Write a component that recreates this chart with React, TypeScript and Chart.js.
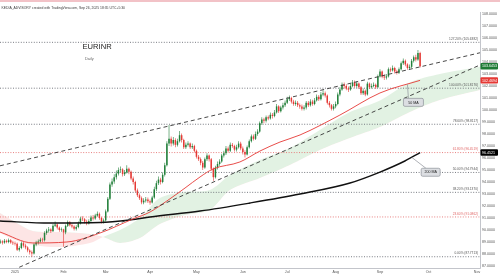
import React, { useEffect, useRef } from 'react';
import { Chart, registerables } from 'chart.js';

Chart.register(...registerables);

// ---------- DATA ----------
const headerText = 'KEDIA_ADVISORY created with TradingView.com, Sep 26, 2025 18:35 UTC+5:30';
const symbolTitle = 'EURINR';
const intervalTitle = 'Daily';

const firstBar = -7; // Dec 23, 2024 (bar 0 = Jan 1, 2025)
const firstOpen = 88.95;

const closes = [
  89.05, 88.95, 89.10, 89.00, 89.15, 88.95, 88.90,
  88.85, 88.35, 88.50, 88.90, 88.70, 88.55, 88.30, 88.15, 88.05, 88.80,
  88.95, 89.05, 89.20, 89.15, 89.75, 89.95, 90.05, 89.90, 90.35, 90.45,
  90.20, 90.00, 90.05,
  89.80, 90.35, 90.65, 90.40, 90.30, 90.10, 90.25, 90.55, 90.95, 90.90,
  90.70, 90.55, 90.75, 91.05, 90.95, 91.20, 91.35, 91.00, 90.70, 90.80,
  91.55, 92.60, 93.80, 94.05, 94.40, 94.70, 95.00, 95.05, 94.65, 94.80,
  95.10, 94.85, 94.30, 94.00, 93.30, 92.90, 92.65, 92.30, 92.45, 92.55, 92.40,
  92.30, 92.70, 93.40, 93.90, 94.20, 94.00, 94.60, 95.40, 97.20, 97.60,
  97.20, 97.50, 97.10, 97.40, 97.90, 97.50, 96.90, 97.10, 97.20, 96.90, 97.00, 96.60,
  96.10, 95.90, 95.60, 95.20, 95.90, 96.20, 95.90, 95.10, 94.40, 95.20,
  95.50, 95.70, 96.20, 96.40, 96.80, 96.60, 97.10, 97.00, 96.70, 96.90, 97.20, 96.80,
  96.50, 96.30, 96.90, 97.40, 97.80, 97.60, 98.00, 98.20, 98.90, 99.20,
  99.10, 99.40, 99.30, 99.60, 99.50, 99.80, 100.30, 99.90, 100.20, 100.40, 100.60,
  100.90, 101.00, 100.70, 100.50, 100.60, 100.40, 100.30, 100.10, 100.20, 100.60,
  100.40, 100.70, 100.50, 100.80, 101.10, 100.90, 101.30, 101.40, 101.20, 100.60,
  100.40, 100.10, 100.30,
  100.50, 101.30, 101.70, 102.10, 102.00, 101.80, 101.70, 102.00, 102.30, 102.00,
  102.20, 101.90, 101.40, 101.60, 101.30, 102.20, 101.90, 102.00, 102.10, 101.90, 102.80,
  103.20, 102.80, 102.70, 102.80, 103.40, 103.30, 103.50, 103.20, 103.10, 103.40,
  103.90, 104.10, 103.80, 103.50, 103.60, 104.10, 104.40, 104.20, 104.75, 103.6453,
];

const highs = [
  89.20, 89.15, 89.25, 89.20, 89.30, 89.25, 89.10,
  89.05, 88.95, 88.65, 89.05, 89.00, 88.85, 88.65, 88.40, 88.30, 88.90,
  89.10, 89.20, 89.35, 89.35, 89.90, 90.10, 90.25, 90.15, 90.50, 90.70,
  90.55, 90.30, 90.20,
  90.10, 90.45, 90.80, 90.75, 90.55, 90.40, 90.40, 90.70, 91.10, 91.15,
  91.00, 90.85, 90.90, 91.20, 91.25, 91.35, 91.55, 91.45, 91.10, 90.95,
  91.70, 92.75, 93.95, 94.30, 94.65, 94.95, 95.20, 95.30, 95.15, 95.00,
  95.40, 95.20, 94.95, 94.45, 94.10, 93.45, 93.05, 92.80, 92.65, 92.75, 92.70,
  92.55, 92.85, 93.60, 94.10, 94.45, 94.35, 94.80, 95.60, 97.40, 98.75,
  97.80, 97.75, 97.65, 97.60, 98.25, 98.05, 97.60, 97.30, 97.40, 97.30, 97.20, 97.10,
  96.70, 96.25, 96.05, 95.75, 96.05, 96.40, 96.30, 96.00, 95.20, 95.35,
  95.70, 95.90, 96.35, 96.60, 97.00, 96.95, 97.30, 97.25, 97.10, 97.10, 97.40, 97.35,
  96.95, 96.65, 97.05, 97.55, 97.95, 97.95, 98.20, 98.40, 99.05, 99.40,
  99.35, 99.55, 99.55, 99.80, 99.75, 100.00, 100.50, 100.40, 100.35, 100.60, 100.80,
  101.10, 101.20, 101.10, 100.85, 100.80, 100.75, 100.55, 100.45, 100.40, 100.75,
  100.75, 100.90, 100.85, 101.00, 101.30, 101.25, 101.50, 101.65, 101.55, 101.30,
  100.75, 100.50, 100.50,
  100.70, 101.45, 101.90, 102.30, 102.30, 102.15, 101.95, 102.20, 102.50, 102.45,
  102.40, 102.30, 102.00, 101.80, 101.70, 102.35, 102.30, 102.20, 102.30, 102.20, 102.95,
  103.40, 103.30, 102.95, 103.00, 103.55, 103.55, 103.70, 103.60, 103.35, 103.55,
  104.05, 104.30, 104.20, 103.90, 103.80, 104.25, 104.55, 104.60, 105.00, 104.85,
];

const lows = [
  88.85, 88.80, 88.85, 88.90, 88.90, 88.85, 88.75,
  88.70, 88.25, 88.20, 88.40, 88.55, 88.40, 88.15, 87.95, 87.77, 87.95,
  88.65, 88.80, 88.95, 89.00, 89.05, 89.60, 89.80, 89.75, 89.85, 90.25,
  90.05, 89.85, 89.85,
  88.60, 89.65, 90.25, 90.30, 90.15, 89.95, 89.95, 90.15, 90.45, 90.75,
  90.55, 90.40, 90.45, 90.65, 90.80, 90.85, 91.10, 90.85, 90.55, 90.55,
  90.70, 91.45, 92.50, 93.60, 93.85, 94.20, 94.55, 94.80, 94.45, 94.50,
  94.70, 94.65, 94.15, 93.80, 93.15, 92.75, 92.50, 92.15, 92.15, 92.30, 92.25,
  92.10, 92.20, 92.60, 93.25, 93.75, 93.80, 93.90, 94.45, 95.30, 97.00,
  96.95, 97.05, 96.90, 96.95, 97.30, 97.30, 96.75, 96.75, 96.95, 96.75, 96.75, 96.45,
  95.95, 95.75, 95.40, 95.00, 95.10, 95.75, 95.70, 94.95, 94.10, 94.30,
  95.05, 95.35, 95.60, 96.05, 96.25, 96.45, 96.50, 96.85, 96.55, 96.55, 96.80, 96.65,
  96.30, 96.05, 96.20, 96.80, 97.30, 97.45, 97.50, 97.85, 98.10, 98.75,
  98.90, 98.95, 99.15, 99.20, 99.30, 99.40, 99.70, 99.75, 99.80, 100.05, 100.25,
  100.50, 100.75, 100.55, 100.35, 100.35, 100.25, 100.10, 99.95, 99.95, 100.05,
  100.25, 100.30, 100.35, 100.40, 100.70, 100.75, 100.80, 101.15, 101.05, 100.45,
  100.20, 99.95, 99.95,
  100.15, 100.40, 101.15, 101.60, 101.80, 101.65, 101.50, 101.60, 101.90, 101.85,
  101.85, 101.75, 101.25, 101.25, 101.15, 101.20, 101.75, 101.80, 101.90, 101.75, 101.85,
  102.70, 102.65, 102.50, 102.55, 102.70, 103.15, 103.20, 103.05, 102.95, 103.00,
  103.30, 103.75, 103.65, 103.35, 103.35, 103.50, 103.95, 104.05, 104.10, 103.55,
];

// moving averages (bar index, value)
const ma50Bars = [-7.11, 8.5, 24.6, 40.3, 55.9, 64, 72, 80.6, 87.7, 93.8, 106.6, 116.1, 125.6, 135.1, 154, 173, 192];
const ma50Vals = [89.83, 88.92, 89.0, 89.75, 90.92, 91.5, 92.42, 93.5, 94.42, 95.08, 95.67, 96.58, 97.33, 97.92, 99.58, 101.42, 102.4694];
const ma200Bars = [-7.11, 16.6, 40.3, 55, 64, 87.7, 111.4, 135.1, 158.8, 173, 184.8, 192];
const ma200Vals = [90.75, 90.58, 90.62, 90.85, 91.08, 91.58, 92.25, 93.0, 93.92, 94.83, 95.75, 96.4521];

// cloud spans
const cloudBars = [-7.11, 0, 8.5, 21.3, 35.5, 41.7, 49.8, 59.2, 68.7, 80.6, 92.4, 101.9, 116.1, 130.3, 144.5, 158.8, 173, 187.2, 201.4, 220.4];
const spanA = [89.75, 89.17, 88.75, 88.58, 88.92, 89.42, 90.0, 91.0, 92.67, 93.17, 93.33, 94.58, 95.83, 96.83, 98.33, 99.83, 100.8, 102.3, 103.0, 103.6];
const spanB = [91.42, 90.67, 89.92, 89.83, 89.67, 89.42, 88.92, 89.33, 90.5, 91.25, 91.67, 93.33, 94.33, 95.42, 96.67, 97.67, 98.58, 99.83, 100.83, 101.67];

// trendlines
const upperBars = [-7.11, 220.4];
const upperVals = [95.35, 104.77];
const lowerBars = [-7.11, 220.4];
const lowerVals = [86.19, 103.75];

// fibonacci
const fibLow = 87.7713;
const fibHigh = 101.8176;
const fibRatios = [1.272, 1, 0.786, 0.618, 0.5, 0.382, 0.236, 0];
const fibRedRatios = [0.618, 0.236];

// axes
const xMin = -7.11;
const xMax = 220.4;
const yMin = 86.8333;
const yMax = 108.1667;
const xTickBars = [0, 23, 43, 64, 86, 108, 129, 152, 173, 196, 219];
const xTickLabels = ['2025', 'Feb', 'Mar', 'Apr', 'May', 'Jun', 'Jul', 'Aug', 'Sep', 'Oct', 'Nov'];
const yTicks = [87, 88, 89, 90, 91, 92, 93, 94, 95, 96, 97, 98, 99, 100, 101, 102, 103, 104, 105, 106, 107, 108];

// ---------- STYLE ----------
const FONT = '"Liberation Sans", Arial, sans-serif';
const UP = '#23803b';
const DOWN = '#e53935';

const opens = closes.map((c, i) => (i === 0 ? firstOpen : closes[i - 1]));
const isUp = closes.map((c, i) => c >= opens[i]);

const pts = (bars: number[], vals: number[]) => bars.map((b, i) => ({ x: b, y: vals[i] }));

function interp(bars: number[], vals: number[], b: number) {
  for (let i = 0; i < bars.length - 1; i++) {
    if (b >= bars[i] && b <= bars[i + 1]) {
      const t = (b - bars[i]) / (bars[i + 1] - bars[i]);
      return vals[i] + t * (vals[i + 1] - vals[i]);
    }
  }
  return vals[vals.length - 1];
}

const overlay = {
  id: 'overlay',
  afterDraw(chart: any) {
    const { ctx, chartArea, scales } = chart;
    const xs = scales.x;
    const ys = scales.y;
    ctx.save();
    // hide overflow of last x label under the price axis
    ctx.fillStyle = '#ffffff';
    ctx.fillRect(chartArea.right + 0.5, chartArea.bottom + 0.6, 40, 20);

    // header
    ctx.fillStyle = '#f2c2c7';
    ctx.fillRect(0, 0, 500, 2);
    ctx.fillStyle = '#3a3a3a';
    ctx.font = `3.4px ${FONT}`;
    ctx.textAlign = 'left';
    ctx.textBaseline = 'middle';
    ctx.fillText(headerText, 1.5, 8.3);

    // title
    ctx.fillStyle = '#1c1c1c';
    ctx.font = `7.6px ${FONT}`;
    ctx.fillText(symbolTitle, 82.5, 46.5);
    ctx.fillStyle = '#666';
    ctx.font = `3.9px ${FONT}`;
    ctx.fillText(intervalTitle, 85, 59);

    // fib labels
    ctx.font = `3.2px ${FONT}`;
    ctx.textAlign = 'right';
    fibRatios.forEach((r) => {
      const v = fibLow + r * (fibHigh - fibLow);
      const y = ys.getPixelForValue(v);
      ctx.fillStyle = fibRedRatios.includes(r) ? '#e06666' : '#555';
      ctx.fillText(`${(r * 100).toFixed(2)}% (${v.toFixed(4)})`, chartArea.right - 2, y - 3.3);
    });

    // callouts
    const callout = (text: string, ax: number, ay: number, bx: number, by: number, w: number, h: number) => {
      ctx.strokeStyle = '#8d9098';
      ctx.lineWidth = 0.7;
      ctx.beginPath();
      ctx.moveTo(ax, ay);
      ctx.lineTo(bx - w / 4, by - h / 2);
      ctx.stroke();
      ctx.beginPath();
      ctx.roundRect(bx - w / 2, by - h / 2, w, h, 1.5);
      ctx.fillStyle = '#dcdee2';
      ctx.fill();
      ctx.stroke();
      ctx.fillStyle = '#222';
      ctx.font = `3.6px ${FONT}`;
      ctx.textAlign = 'center';
      ctx.textBaseline = 'middle';
      ctx.fillText(text, bx, by + 0.2);
    };
    const a50x = xs.getPixelForValue(186);
    const a50y = ys.getPixelForValue(interp(ma50Bars, ma50Vals, 186));
    callout('50 MA', a50x, a50y, a50x + 6, a50y + 18, 20, 8);
    const a200x = xs.getPixelForValue(188);
    const a200y = ys.getPixelForValue(interp(ma200Bars, ma200Vals, 188));
    callout('200 MA', a200x, a200y, a200x + 19, a200y + 15, 19, 8);

    // price boxes on axis
    const box = (v: number, bg: string) => {
      const y = ys.getPixelForValue(v);
      ctx.beginPath();
      ctx.roundRect(chartArea.right + 0.5, y - 3.2, 17.5, 6.4, 1);
      ctx.fillStyle = bg;
      ctx.fill();
      ctx.fillStyle = '#fff';
      ctx.font = `3.6px ${FONT}`;
      ctx.textAlign = 'left';
      ctx.textBaseline = 'middle';
      ctx.fillText(v.toFixed(4), chartArea.right + 2, y + 0.2);
    };
    box(ma200Vals[ma200Vals.length - 1], '#000000');
    box(ma50Vals[ma50Vals.length - 1], '#e53935');
    box(closes[closes.length - 1], '#1e7a35');
    ctx.restore();
  },
};

export default function App() {
  const ref = useRef<HTMLCanvasElement>(null);
  useEffect(() => {
    Chart.defaults.font.family = FONT;
    const candleBars = closes.map((_, i) => firstBar + i);
    const bodies = candleBars.map((b, i) => ({ x: b, y: [opens[i], closes[i]] }));
    const wicks = candleBars.map((b, i) => ({
      x: b,
      y: [Math.min(lows[i], opens[i], closes[i]), Math.max(highs[i], opens[i], closes[i])],
    }));
    const colors = isUp.map((u) => (u ? UP : DOWN));

    const fibSets = fibRatios.map((r) => {
      const v = fibLow + r * (fibHigh - fibLow);
      const red = fibRedRatios.includes(r);
      return {
        type: 'line',
        data: [{ x: xMin, y: v }, { x: xMax, y: v }],
        borderColor: red ? '#e57373' : '#6a6d75',
        borderWidth: 0.9,
        borderDash: [1, 1.6],
        pointRadius: 0,
        fill: false,
        order: 8,
      };
    });

    const chart = new Chart(ref.current as HTMLCanvasElement, {
      type: 'line',
      data: {
        datasets: [
          {
            type: 'line',
            data: pts(cloudBars, spanA),
            borderColor: 'rgba(0,0,0,0)',
            borderWidth: 0,
            pointRadius: 0,
            tension: 0.3,
            fill: { target: '+1', above: 'rgba(76,175,80,0.16)', below: 'rgba(239,83,80,0.15)' },
            order: 10,
          },
          {
            type: 'line',
            data: pts(cloudBars, spanB),
            borderColor: 'rgba(0,0,0,0)',
            borderWidth: 0,
            pointRadius: 0,
            tension: 0.3,
            fill: false,
            order: 10,
          },
          ...fibSets,
          {
            type: 'bar',
            data: wicks,
            backgroundColor: colors,
            barThickness: 0.6,
            grouped: false,
            inflateAmount: 0,
            order: 6,
          },
          {
            type: 'bar',
            data: bodies,
            backgroundColor: colors,
            barThickness: 1.5,
            grouped: false,
            inflateAmount: 0,
            order: 5,
          },
          {
            type: 'line',
            data: pts(ma200Bars, ma200Vals),
            borderColor: '#111111',
            borderWidth: 1.4,
            pointRadius: 0,
            cubicInterpolationMode: 'monotone',
            fill: false,
            order: 4,
          },
          {
            type: 'line',
            data: pts(ma50Bars, ma50Vals),
            borderColor: '#e53935',
            borderWidth: 0.9,
            pointRadius: 0,
            cubicInterpolationMode: 'monotone',
            fill: false,
            order: 3,
          },
          {
            type: 'line',
            data: pts(upperBars, upperVals),
            borderColor: '#333',
            borderWidth: 0.9,
            borderDash: [4, 3],
            pointRadius: 0,
            fill: false,
            order: 2,
          },
          {
            type: 'line',
            data: pts(lowerBars, lowerVals),
            borderColor: '#333',
            borderWidth: 0.9,
            borderDash: [4, 3],
            pointRadius: 0,
            fill: false,
            order: 2,
          },
        ] as any,
      },
      options: {
        animation: false,
        responsive: false,
        devicePixelRatio: 1,
        layout: { padding: { top: 12, left: 0, right: 0, bottom: 0 } },
        plugins: { legend: { display: false }, tooltip: { enabled: false } },
        events: [],
        scales: {
          x: {
            type: 'linear',
            min: xMin,
            max: xMax,
            offset: false,
            grid: { display: false, drawTicks: false, offset: false },
            border: { display: true, color: '#c3c5cb', width: 1 },
            afterBuildTicks: (s: any) => {
              s.ticks = xTickBars.map((v) => ({ value: v }));
            },
            afterFit: (s: any) => {
              s.height = 12;
            },
            ticks: {
              autoSkip: false,
              maxRotation: 0,
              padding: 2,
              color: '#555',
              font: { size: 3.6 },
              callback: (v: any) => {
                const i = xTickBars.indexOf(Number(v));
                return i >= 0 ? xTickLabels[i] : '';
              },
            },
          },
          y: {
            type: 'linear',
            position: 'right',
            min: yMin,
            max: yMax,
            grid: { display: false, drawTicks: false },
            border: { display: true, color: '#c3c5cb', width: 1 },
            afterBuildTicks: (s: any) => {
              s.ticks = yTicks.map((v) => ({ value: v }));
            },
            afterFit: (s: any) => {
              s.width = 20;
            },
            ticks: {
              padding: 2,
              color: '#555',
              font: { size: 3.6 },
              callback: (v: any) => Number(v).toFixed(4),
            },
          },
        },
      } as any,
      plugins: [overlay],
    });
    return () => chart.destroy();
  }, []);

  return (
    <div style={{ position: 'fixed', left: 0, top: 0, width: 500, height: 280, background: '#fff' }}>
      <canvas ref={ref} width={500} height={280} style={{ display: 'block', width: 500, height: 280 }} />
    </div>
  );
}
